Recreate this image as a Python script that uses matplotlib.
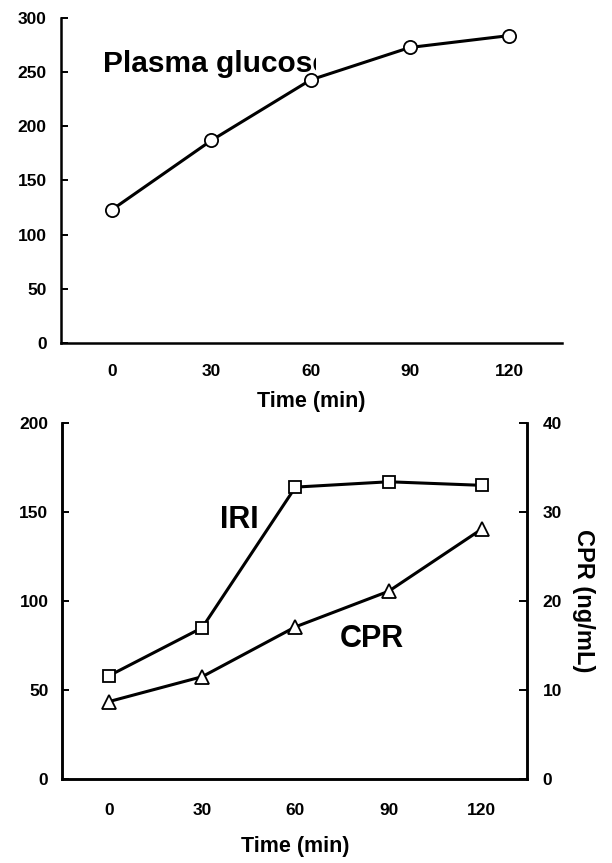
import matplotlib
matplotlib.use("Agg")
import matplotlib.pyplot as plt
from matplotlib.transforms import Bbox, TransformedBbox

plt.rcParams['font.family'] = ['Liberation Sans', 'DejaVu Sans']
plt.rcParams['font.weight'] = 'bold'

time_min = [0, 30, 60, 90, 120]
glucose = [123, 187, 243, 273, 284]
iri = [58, 85, 164, 167, 165]
cpr = [8.7, 11.5, 17.1, 21.1, 28.1]

glucose_ticks = [0, 50, 100, 150, 200, 250, 300]
iri_ticks = [0, 50, 100, 150, 200]
cpr_ticks = [0, 10, 20, 30, 40]

fig = plt.figure(figsize=(6.12, 8.63), dpi=100)

lw = 2.2
spw = 1.8
tick_fs = 12.5

# ---- top panel ----
ax1 = fig.add_axes([0.0992, 0.6029, 0.8186, 0.3759])
ax1.plot(time_min, glucose, color='black', lw=lw, marker='o', ms=9.5,
         mfc='white', mec='black', mew=1.3, zorder=3)
ax1.set_xlim(-15.5, 135.9)
ax1.set_ylim(0, 300)
ax1.set_xticks(time_min)
ax1.set_yticks(glucose_ticks)
for s in ['top', 'right']:
    ax1.spines[s].set_visible(False)
for s in ['left', 'bottom']:
    ax1.spines[s].set_linewidth(spw)
ax1.tick_params(axis='x', length=0, pad=15, labelsize=tick_fs)
ax1.tick_params(axis='y', direction='in', length=5, width=1.4, pad=10, labelsize=tick_fs)
ax1.set_xlabel('Time (min)', fontsize=15.5, fontweight='bold', labelpad=9)
t = ax1.text(-2.6, 250.7, 'Plasma glucose', fontsize=21.5, fontweight='bold',
             ha='left', va='baseline', zorder=2)
t.set_clip_box(TransformedBbox(Bbox([[-20, 0], [61.6, 300]]), ax1.transData))
t.set_clip_on(True)

# ---- bottom panel ----
ax2 = fig.add_axes([0.1018, 0.0973, 0.7598, 0.4125])
ax2.plot(time_min, iri, color='black', lw=lw, marker='s', ms=9,
         mfc='white', mec='black', mew=1.3, zorder=3)
ax2.set_xlim(-15.0, 134.6)
ax2.set_ylim(0, 200)
ax2.set_xticks(time_min)
ax2.set_yticks(iri_ticks)
ax2.spines['top'].set_visible(False)
for s in ['left', 'bottom', 'right']:
    ax2.spines[s].set_linewidth(spw)
ax2.tick_params(axis='x', length=0, pad=17, labelsize=tick_fs)
ax2.tick_params(axis='y', direction='in', length=5, width=1.4, pad=10, labelsize=tick_fs)
ax2.set_xlabel('Time (min)', fontsize=15.5, fontweight='bold', labelpad=13)

ax3 = ax2.twinx()
ax3.plot(time_min, cpr, color='black', lw=lw, marker='^', ms=10.5,
         mfc='white', mec='black', mew=1.3, zorder=3)
ax3.set_ylim(0, 40)
ax3.set_yticks(cpr_ticks)
ax3.spines['top'].set_visible(False)
for s in ['left', 'bottom', 'right']:
    ax3.spines[s].set_linewidth(spw)
ax3.tick_params(axis='y', direction='in', length=6, width=1.4, pad=11, labelsize=tick_fs)
ax3.set_ylabel('CPR (ng/mL)', fontsize=17, fontweight='bold', rotation=270, labelpad=24)

ax2.text(35.7, 141, 'IRI', fontsize=22, fontweight='bold', ha='left', va='baseline')
ax2.text(74.3, 74, 'CPR', fontsize=22, fontweight='bold', ha='left', va='baseline')

fig.savefig('out.png', dpi=100)
